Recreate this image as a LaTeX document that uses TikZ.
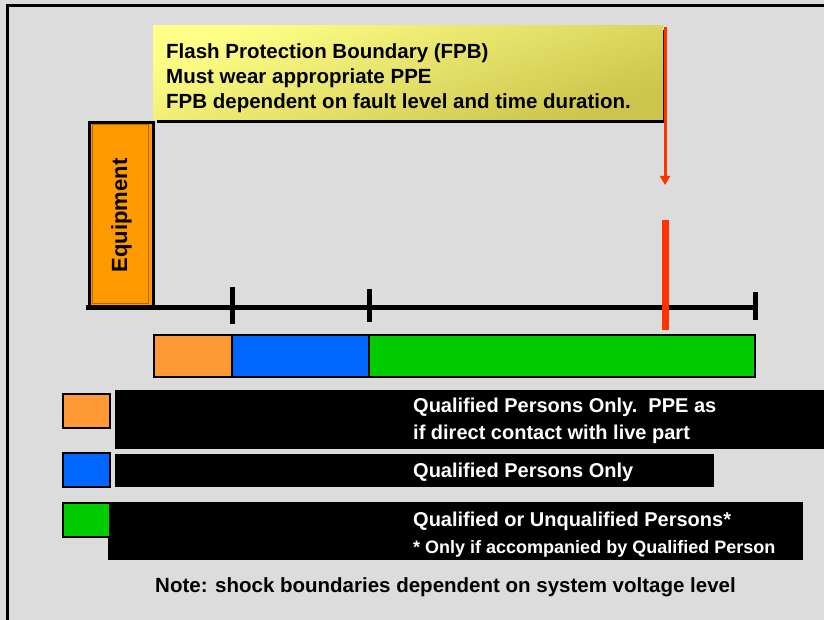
\documentclass[tikz,border=0pt]{standalone}
\usepackage{fontspec}
\setmainfont{Liberation Sans}
\usepackage{xcolor}
\usetikzlibrary{arrows.meta}

\definecolor{bggray}{HTML}{DCDCDC}
\definecolor{fpbred}{HTML}{FF3300}
\definecolor{equiporange}{HTML}{FF9900}
\definecolor{equipedge}{HTML}{B06A00}
\definecolor{zoneorange}{HTML}{FF9933}
\definecolor{zoneblue}{HTML}{0066FF}
\definecolor{zonegreen}{HTML}{00CC00}
\definecolor{notelight}{HTML}{FFFF88}
\definecolor{notemid}{HTML}{FFFF5C}
\definecolor{notedark}{HTML}{CCC44C}

\begin{document}
\begin{tikzpicture}[x=1pt, y=-1pt, font=\bfseries,
  zone/.style={draw=black, line width=1.5pt, inner sep=0pt, outer sep=0pt, anchor=north west, minimum height=42pt},
  key/.style={draw=black, line width=1.5pt, inner sep=0pt, anchor=north west, minimum width=47pt, minimum height=34pt},
  keybar/.style={fill=black, inner sep=0pt, anchor=north west},
  keytext/.style={text=white, font=\fontsize{20}{27}\selectfont\bfseries, align=left, anchor=base west, inner sep=0pt}]
\useasboundingbox (0,0) rectangle (824,620);
\fill[bggray] (0,0) rectangle (824,620);
\draw[line width=3pt] (7.5,620) -- (7.5,6) -- (824,6);

% flash protection boundary note
\fill[black] (157,30) rectangle (665,123);
\shade[top color=notelight, middle color=notemid, bottom color=notedark, shading angle=20] (153,26) rectangle (663,120);
\node[anchor=base west, inner sep=0pt, align=left, font=\fontsize{20.5}{25}\selectfont\bfseries] (fpbtext) at (166,109)
  {Flash Protection Boundary (FPB)\\Must wear appropriate PPE\\FPB dependent on fault level and time duration.};

% equipment
\node[draw=black, line width=3pt, fill=equiporange, inner sep=0pt, anchor=north west,
  minimum width=64pt, minimum height=186pt] (equip) at (88,121) {};
\draw[equipedge, line width=1pt] (92,125) rectangle (148,303);
\node[rotate=90, font=\fontsize{22}{26}\selectfont\bfseries] (equiplabel) at (equip.center) {Equipment};

% distance axis
\coordinate (axstart) at (86,307.5);
\coordinate (axend) at (757,307.5);
\draw[line width=5pt] (axstart) -- (axend);
\foreach \x/\t/\b in {232/287/324, 369/289/322, 755/292/320}
  \draw[line width=5pt] (\x,\t) -- (\x,\b);

% boundary marker
\coordinate (fpbtop) at (665,27);
\coordinate (fpbtip) at (665,185);
\draw[fpbred, line width=3pt, -{Triangle[length=9pt,width=10pt]}] (fpbtop) -- (fpbtip);
\draw[fpbred, line width=7pt] (665,220) -- (665,330);

% approach zones
\node[zone, fill=zoneorange, minimum width=78pt] (zoneA) at (154,335) {};
\node[zone, fill=zoneblue, minimum width=137pt] (zoneB) at (zoneA.north east) {};
\node[zone, fill=zonegreen, minimum width=386pt] (zoneC) at (zoneB.north east) {};

% legend
\node[keybar, minimum width=709pt, minimum height=59pt] (barA) at (115,390) {};
\node[keybar, minimum width=599pt, minimum height=33pt] (barB) at (115,454) {};
\node[keybar, minimum width=695pt, minimum height=58pt] (barC) at (108,502) {};
\node[key, fill=zoneorange] (keyA) at (62,393) {};
\node[key, fill=zoneblue] (keyB) at (62,452) {};
\node[key, fill=zonegreen] (keyC) at (62,502) {};
\node[keytext] (textA) at (413,439) {Qualified Persons Only.\ \ PPE as\\if direct contact with live part};
\node[keytext] (textB) at (413,477) {Qualified Persons Only};
\node[keytext] (textC) at (413,526) {Qualified or Unqualified Persons*};
\node[keytext, font=\fontsize{18}{22}\selectfont\bfseries] (textD) at (413,553) {* Only if accompanied by Qualified Person};

\node[anchor=base west, inner sep=0pt, font=\fontsize{20.5}{24}\selectfont\bfseries] (note) at (155,592)
  {Note: shock boundaries dependent on system voltage level};
\end{tikzpicture}
\end{document}
